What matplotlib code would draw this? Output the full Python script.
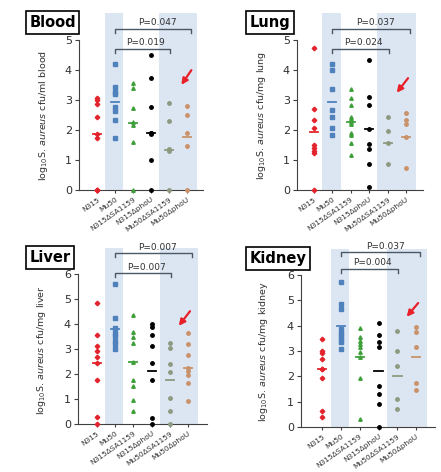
import matplotlib
matplotlib.use('Agg')
import matplotlib.pyplot as plt
import numpy as np

groups = ['N315', 'Mu50', 'N315ΔSA1159', 'N315ΔphoU', 'Mu50ΔSA1159', 'Mu50ΔphoU']
colors = ['#e3232b', '#4f81bd', '#3f9f3a', '#000000', '#8d9a80', '#c9926a']
markers = ['D', 's', '^', 'o', 'o', 'o']

# log10 cfu values, one list per group
blood = [[0, 0, 0, 1.72, 1.87, 2.42, 2.86, 3.0, 3.08],
         [1.72, 2.33, 2.64, 2.76, 3.19, 3.28, 3.42, 4.19],
         [0, 1.61, 2.17, 2.26, 2.74, 3.39, 3.58],
         [0, 1.0, 1.88, 1.89, 1.9, 2.78, 3.72, 4.5],
         [0, 1.31, 1.37, 2.31, 2.91],
         [0, 1.48, 1.91, 2.5, 2.8]]
blood_med = [1.88, 2.94, 2.24, 1.89, 1.33, 1.76]

lung = [[0, 1.25, 1.31, 1.4, 1.5, 2.08, 2.33, 2.7, 4.74],
        [1.83, 2.08, 2.42, 2.67, 3.36, 4.0, 4.19],
        [1.17, 1.56, 1.83, 1.91, 2.2, 2.28, 2.37, 2.44, 2.82, 3.08, 3.36],
        [0.11, 0.87, 1.37, 1.52, 2.02, 2.82, 3.09, 4.33],
        [0.87, 1.58, 1.97, 2.42],
        [0.72, 1.78, 2.19, 2.33, 2.56]]
lung_med = [1.92, 2.94, 2.27, 2.02, 1.58, 1.78]

liver = [[0, 0.27, 1.75, 2.45, 2.69, 2.92, 3.12, 3.55, 4.83],
         [3.01, 3.19, 3.32, 3.52, 3.65, 3.84, 4.26, 5.6],
         [0.54, 0.98, 1.51, 1.75, 2.48, 3.23, 3.5, 3.68, 4.35],
         [0, 0.24, 1.75, 2.45, 3.12, 3.58, 3.9, 3.99],
         [0, 0.51, 1.03, 2.08, 2.42, 3.05, 3.25],
         [0.94, 1.65, 1.95, 2.12, 2.25, 2.76, 3.19, 3.64]]
liver_med = [2.45, 3.79, 2.48, 2.12, 1.75, 2.25]

kidney = [[0.4, 0.63, 1.95, 2.28, 2.31, 2.7, 2.94, 3.0, 3.47],
          [3.07, 3.34, 3.47, 3.6, 3.73, 3.87, 4.68, 4.85, 5.71],
          [0.33, 1.95, 2.78, 2.98, 3.14, 3.27, 3.4, 3.54, 3.92],
          [0, 0.9, 1.32, 1.62, 3.17, 3.34, 3.63, 4.1],
          [0.7, 1.1, 2.41, 3.0, 3.79],
          [1.46, 1.72, 3.14, 3.75, 3.96]]
kidney_med = [2.28, 4.0, 2.78, 2.22, 2.0, 2.78]

titles = ['Blood', 'Lung', 'Liver', 'Kidney']
units = ['cfu/ml blood', 'cfu/mg lung', 'cfu/mg liver', 'cfu/mg kidney']
pvals = [('P=0.019', 'P=0.047'), ('P=0.024', 'P=0.037'),
         ('P=0.007', 'P=0.007'), ('P=0.004', 'P=0.037')]
ymax = [5, 5, 6, 6]

# layout in pixels: left, right, bottom, top of axes ; xlim ; bracket heights
W, H = 441, 472
layout = [
    dict(px=(79, 203, 190, 13), xlim=(-1.0, 5.89), ytop=5.9, br=(4.7, 5.37), drop=0.12, tbox=(27, 13)),
    dict(px=(297, 423, 190, 13), xlim=(-0.92, 5.92), ytop=5.9, br=(4.7, 5.37), drop=0.12, tbox=(247, 13)),
    dict(px=(78, 207, 424, 248), xlim=(-1.04, 6.04), ytop=7.04, br=(6.04, 6.84), drop=0.16, tbox=(27, 248)),
    dict(px=(301, 435, 427, 249), xlim=(-1.12, 6.0), ytop=7.03, br=(6.24, 6.9), drop=0.16, tbox=(247, 249)),
]
arrows = [((5.33, 4.07), (4.6, 3.43)), ((5.2, 3.8), (4.4, 3.17)),
          ((5.2, 4.6), (4.4, 3.84)), ((5.2, 4.98), (4.4, 4.27))]

data = [blood, lung, liver, kidney]
meds = [blood_med, lung_med, liver_med, kidney_med]

fig = plt.figure(figsize=(W / 100, H / 100), dpi=100)
shade = '#dce6f2'
axcol = '#404040'
brcol = '#4a5866'

for k in range(4):
    L = layout[k]
    l, r, b, t = L['px']
    ax = fig.add_axes([l / W, 1 - b / H, (r - l) / W, (b - t) / H])
    ax.set_xlim(*L['xlim'])
    ax.set_ylim(0, L['ytop'])
    ax.axvspan(0.45, 1.45, color=shade, lw=0, zorder=0)
    ax.axvspan(3.45, 5.55, color=shade, lw=0, zorder=0)

    for i, vals in enumerate(data[k]):
        x = np.full(len(vals), i)
        ax.plot(x, vals, ls='none', marker=markers[i], ms=2.5 if markers[i] != 'D' else 2.3,
                color=colors[i], mec=colors[i], clip_on=False, zorder=3)
        ax.plot([i - 0.22, i + 0.22], [meds[k][i]] * 2, color=colors[i], lw=1.3, zorder=3)

    for s in ['top', 'right']:
        ax.spines[s].set_visible(False)
    for s in ['left', 'bottom']:
        ax.spines[s].set_color(axcol)
        ax.spines[s].set_linewidth(0.8)
    ax.spines['left'].set_bounds(0, ymax[k])
    ax.set_yticks(range(ymax[k] + 1))
    ax.tick_params(axis='y', length=3, width=0.8, color=axcol, labelsize=8, labelcolor='#303030', pad=2)
    ax.set_xticks(range(6))
    ax.set_xticklabels(groups, rotation=35, ha='right', rotation_mode='anchor', fontsize=5.4, color='#303030')
    ax.tick_params(axis='x', length=2.5, width=0.8, color=axcol, pad=2)

    ax.set_ylabel('log$_{10}$S. $\\it{aureus}$ ' + units[k], fontsize=6.8, color='#303030')
    ax.yaxis.set_label_coords(-0.23, 0.42)

    # significance brackets
    lo, hi = L['br']
    d = L['drop']
    ax.plot([1, 1, 4.05, 4.05], [lo - d, lo, lo, lo - d], color=brcol, lw=1, clip_on=False)
    ax.plot([1, 1, 5.2, 5.2], [hi - d, hi, hi, hi - d], color=brcol, lw=1, clip_on=False)
    ax.text(2.7, lo + 0.06, pvals[k][0], ha='center', va='bottom', fontsize=6.5, color='#303030', clip_on=False)
    ax.text(3.35, hi + 0.06, pvals[k][1], ha='center', va='bottom', fontsize=6.5, color='#303030', clip_on=False)

    (x0, y0), (x1, y1) = arrows[k]
    ax.annotate('', xy=(x1, y1), xytext=(x0, y0),
                arrowprops=dict(arrowstyle='-|>', color='#e8202a', lw=1.6, mutation_scale=9))

    bx, by = L['tbox']
    fig.text(bx / W + 0.005, 1 - by / H - 0.004, titles[k], ha='left', va='top', fontsize=10.5,
             fontweight='bold', bbox=dict(boxstyle='square,pad=0.25', fc='white', ec='black', lw=1.2))

fig.savefig('out.png', dpi=100)
